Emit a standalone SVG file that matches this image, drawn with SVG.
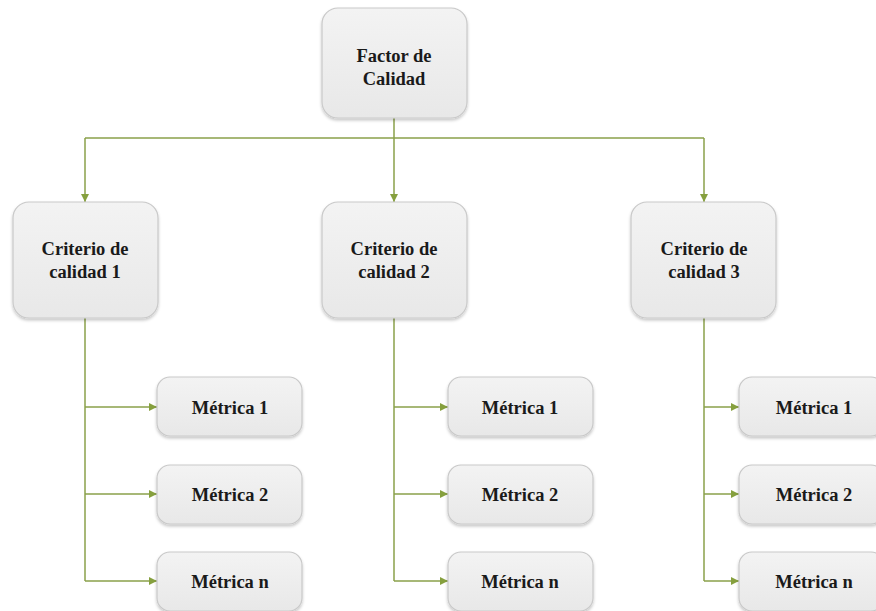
<svg xmlns="http://www.w3.org/2000/svg" width="876" height="611" viewBox="0 0 876 611">
<defs>
<linearGradient id="g" x1="0" y1="0" x2="0" y2="1">
<stop offset="0" stop-color="#f3f3f3"/>
<stop offset="1" stop-color="#e8e8e8"/>
</linearGradient>
<filter id="sh" x="-10%" y="-10%" width="120%" height="130%">
<feDropShadow dx="0" dy="2" stdDeviation="1.5" flood-color="#000" flood-opacity="0.22"/>
</filter>
<marker id="ar" markerUnits="userSpaceOnUse" markerWidth="10" markerHeight="10" refX="9" refY="5" orient="auto">
<path d="M1,1 L9,5 L1,9 Z" fill="#86a03e"/>
</marker>
</defs>
<style>
.box{fill:url(#g);stroke:#c9c9c9;stroke-width:1.2;filter:url(#sh)}
.t{font-family:"Liberation Serif","Times New Roman",serif;font-weight:bold;font-size:18.5px;fill:#1a1a1a;text-anchor:middle}
.c{fill:none;stroke:#8aa04a;stroke-width:1.5}
.a{marker-end:url(#ar)}
</style>
<rect width="876" height="611" fill="#fff"/>
<g id="connectors">
<path class="c a" d="M394,118 V202"/>
<path class="c" d="M85,138 H704"/>
<path class="c a" d="M85,138 V202"/>
<path class="c a" d="M704,138 V202"/>
<path class="c" d="M85,318 V581"/>
<path class="c a" d="M85,407 H157"/>
<path class="c a" d="M85,494 H157"/>
<path class="c a" d="M85,581 H157"/>
<path class="c" d="M394,318 V581"/>
<path class="c a" d="M394,407 H448"/>
<path class="c a" d="M394,494 H448"/>
<path class="c a" d="M394,581 H448"/>
<path class="c" d="M704,318 V581"/>
<path class="c a" d="M704,407 H739"/>
<path class="c a" d="M704,494 H739"/>
<path class="c a" d="M704,581 H739"/>
</g>
<g id="factor">
<rect class="box" x="322" y="8" width="145" height="110" rx="16"/>
<text class="t" x="394" y="62">Factor de</text>
<text class="t" x="394" y="85">Calidad</text>
</g>
<g id="criterio1">
<rect class="box" x="13" y="202" width="145" height="116" rx="16"/>
<text class="t" x="85" y="255">Criterio de</text>
<text class="t" x="85" y="278">calidad 1</text>
</g>
<g id="criterio2">
<rect class="box" x="322" y="202" width="145" height="116" rx="16"/>
<text class="t" x="394" y="255">Criterio de</text>
<text class="t" x="394" y="278">calidad 2</text>
</g>
<g id="criterio3">
<rect class="box" x="631" y="202" width="145" height="116" rx="16"/>
<text class="t" x="704" y="255">Criterio de</text>
<text class="t" x="704" y="278">calidad 3</text>
</g>
<g id="c1m1"><rect class="box" x="157" y="377" width="145" height="59" rx="13"/><text class="t" x="230" y="414">Métrica 1</text></g>
<g id="c1m2"><rect class="box" x="157" y="465" width="145" height="59" rx="13"/><text class="t" x="230" y="501">Métrica 2</text></g>
<g id="c1mn"><rect class="box" x="157" y="552" width="145" height="59" rx="13"/><text class="t" x="230" y="588">Métrica n</text></g>
<g id="c2m1"><rect class="box" x="448" y="377" width="145" height="59" rx="13"/><text class="t" x="520" y="414">Métrica 1</text></g>
<g id="c2m2"><rect class="box" x="448" y="465" width="145" height="59" rx="13"/><text class="t" x="520" y="501">Métrica 2</text></g>
<g id="c2mn"><rect class="box" x="448" y="552" width="145" height="59" rx="13"/><text class="t" x="520" y="588">Métrica n</text></g>
<g id="c3m1"><rect class="box" x="739" y="377" width="145" height="59" rx="13"/><text class="t" x="814" y="414">Métrica 1</text></g>
<g id="c3m2"><rect class="box" x="739" y="465" width="145" height="59" rx="13"/><text class="t" x="814" y="501">Métrica 2</text></g>
<g id="c3mn"><rect class="box" x="739" y="552" width="145" height="59" rx="13"/><text class="t" x="814" y="588">Métrica n</text></g>
</svg>
